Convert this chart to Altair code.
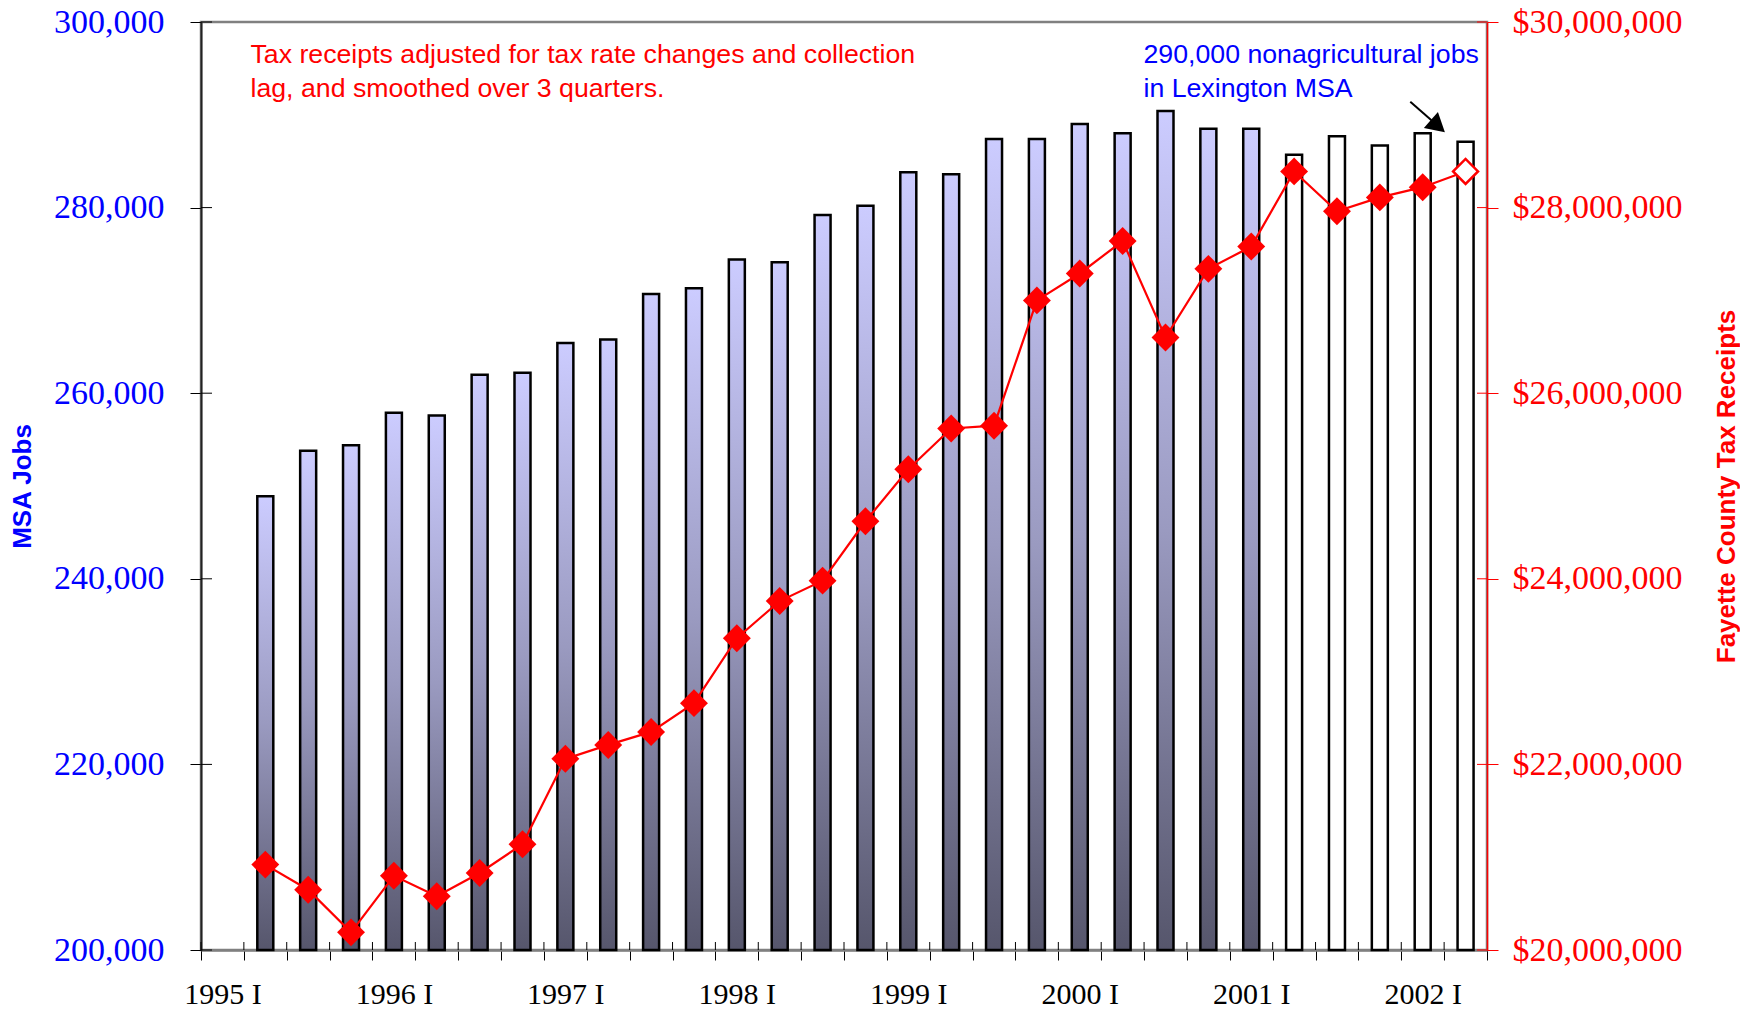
import altair as alt
import pandas as pd

# ---------------- data ----------------
quarters = [
    "1995 I", "1995 II", "1995 III", "1995 IV",
    "1996 I", "1996 II", "1996 III", "1996 IV",
    "1997 I", "1997 II", "1997 III", "1997 IV",
    "1998 I", "1998 II", "1998 III", "1998 IV",
    "1999 I", "1999 II", "1999 III", "1999 IV",
    "2000 I", "2000 II", "2000 III", "2000 IV",
    "2001 I", "2001 II", "2001 III", "2001 IV",
    "2002 I", "2002 II",
]
bar_quarters = quarters[1:]

jobs = [
    248900, 253800, 254400, 257900, 257600, 262000, 262200, 265400,
    265800, 270700, 271300, 274400, 274100, 279200, 280200, 283800,
    283600, 287400, 287400, 289000, 288000, 290400, 288500, 288500,
    285700, 287700, 286700, 288000, 287100,
]
tax = [
    20920000, 20650000, 20190000, 20800000, 20580000, 20830000, 21140000, 22060000,
    22210000, 22350000, 22660000, 23360000, 23760000, 23980000, 24620000, 25180000,
    25620000, 25650000, 27000000, 27290000, 27640000, 26600000, 27340000, 27580000,
    28390000, 27960000, 28110000, 28220000, 28390000,
]
n_actual_jobs = 24          # shaded bars; the rest are outlined
n_actual_tax = 28           # filled diamonds; the last one is hollow

left_ticks = [200000, 220000, 240000, 260000, 280000, 300000]
right_ticks = [20000000, 22000000, 24000000, 26000000, 28000000, 30000000]

note_tax = ["Tax receipts adjusted for tax rate changes and collection",
            "lag, and smoothed over 3 quarters."]
note_jobs = ["290,000 nonagricultural jobs", "in Lexington MSA"]

# ---------------- frames ----------------
W, H = 1286, 928
df = pd.DataFrame({"q": bar_quarters, "jobs": jobs, "tax": tax,
                   "i": list(range(len(jobs)))})
df["base"] = 200000
df_q = pd.DataFrame({"q": quarters})
df_lt = pd.DataFrame({"v": left_ticks})
df_rt = pd.DataFrame({"v": right_ticks})

SERIF = "Liberation Serif"
SANS = "Liberation Sans"
BLUE = "#0000FF"
RED = "#FF0000"

x_scale = alt.Scale(domain=quarters, paddingInner=0, paddingOuter=0)
x_axis = alt.Axis(
    title=None,
    labelExpr="isString(datum.value) && length(datum.value) == 6 ? datum.value : ''",
    labelOverlap=False, tickBand="extent", tickSize=10, tickColor="black",
    tickWidth=1, domainColor="#808080", domainWidth=2.5, labelFont=SERIF,
    labelFontSize=30, labelColor="black", labelPadding=19, labelAngle=0,
    grid=False,
)


def xenc(**kw):
    return alt.X("q:N", scale=x_scale, axis=x_axis, **kw)


yL_scale = alt.Scale(domain=[200000, 300000], zero=False, nice=False)
yL_axis = alt.Axis(
    values=left_ticks, format=",d", title="MSA Jobs", titleColor=BLUE,
    titleFont=SANS, titleFontSize=26, titleFontWeight="bold", titleAngle=270,
    titleX=-179, titleY=H / 2, titleAlign="center", titleBaseline="middle",
    labelFont=SERIF, labelFontSize=34, labelColor=BLUE, labelPadding=26,
    tickSize=11, tickColor="black", tickWidth=1, domainColor="#222222",
    domainWidth=2, grid=False,
)
yR_scale = alt.Scale(domain=[20000000, 30000000], zero=False, nice=False)
yR_axis = alt.Axis(
    orient="right", values=right_ticks, format="$,.0f",
    title="Fayette County Tax Receipts", titleColor=RED, titleFont=SANS,
    titleFontSize=26, titleFontWeight="bold", titleAngle=270, titleX=239,
    titleY=H / 2, titleAlign="center", titleBaseline="middle",
    labelFont=SERIF, labelFontSize=34, labelColor=RED, labelPadding=14,
    tickSize=11, tickColor=RED, tickWidth=1, domainColor=RED, domainWidth=1.5,
    grid=False,
)

base = alt.Chart(df)

gradient = alt.Gradient(
    gradient="linear",
    stops=[alt.GradientStop(color="#CCCCFF", offset=0),
           alt.GradientStop(color="#9A9AC0", offset=0.5),
           alt.GradientStop(color="#56566C", offset=1)],
    x1=0, x2=0, y1=0, y2=1,
)

bars_actual = base.transform_filter(alt.datum.i < n_actual_jobs).mark_bar(
    fill=gradient, stroke="black", strokeWidth=2.5, size=16
).encode(
    x=xenc(),
    y=alt.Y("jobs:Q", scale=yL_scale, axis=yL_axis),
    y2="base:Q",
)
bars_est = base.transform_filter(alt.datum.i >= n_actual_jobs).mark_bar(
    fill="white", stroke="black", strokeWidth=2.5, size=16
).encode(
    x=xenc(),
    y=alt.Y("jobs:Q", scale=yL_scale, axis=yL_axis),
    y2="base:Q",
)
left_inner = alt.Chart(df_lt).mark_rule(color="black", strokeWidth=1).encode(
    y=alt.Y("v:Q", scale=yL_scale, axis=yL_axis),
    x=alt.value(0), x2=alt.value(11),
)
x_inner = alt.Chart(df_q).mark_rule(color="black", strokeWidth=1).encode(
    x=xenc(bandPosition=0),
    y=alt.value(H - 8), y2=alt.value(H),
)

notes = []
for k, line in enumerate(note_tax):
    notes.append(alt.Chart(pd.DataFrame({"t": [line]})).mark_text(
        font=SANS, fontSize=26.7, color=RED, align="left", baseline="alphabetic"
    ).encode(text="t:N", x=alt.value(49.5), y=alt.value(41 + 34 * k)))
for k, line in enumerate(note_jobs):
    notes.append(alt.Chart(pd.DataFrame({"t": [line]})).mark_text(
        font=SANS, fontSize=26.7, color=BLUE, align="left", baseline="alphabetic"
    ).encode(text="t:N", x=alt.value(942.5), y=alt.value(41 + 34 * k)))

arrow_df = pd.DataFrame({"a": [0]})
arrow_shaft = alt.Chart(arrow_df).mark_rule(color="black", strokeWidth=2).encode(
    x=alt.value(1209.3), y=alt.value(79.7), x2=alt.value(1237), y2=alt.value(104)
)
arrow_head = alt.Chart(arrow_df).mark_point(
    shape="triangle-up", filled=True, color="black", size=460, angle=131, opacity=1
).encode(x=alt.value(1236.9), y=alt.value(104.1))

left_layer = alt.layer(bars_actual, bars_est, left_inner, x_inner,
                       *notes, arrow_shaft, arrow_head)

line = base.mark_line(color=RED, strokeWidth=2.2).encode(
    x=xenc(), y=alt.Y("tax:Q", scale=yR_scale, axis=yR_axis)
)
pts = base.transform_filter(alt.datum.i < n_actual_tax).mark_point(
    shape="diamond", filled=True, color=RED, size=780, opacity=1
).encode(x=xenc(), y=alt.Y("tax:Q", scale=yR_scale, axis=yR_axis))
pts_est = base.transform_filter(alt.datum.i >= n_actual_tax).mark_point(
    shape="diamond", filled=True, fill="white", stroke=RED, strokeWidth=2.5,
    size=620, opacity=1
).encode(x=xenc(), y=alt.Y("tax:Q", scale=yR_scale, axis=yR_axis))
right_inner = alt.Chart(df_rt).mark_rule(color=RED, strokeWidth=1).encode(
    y=alt.Y("v:Q", scale=yR_scale, axis=yR_axis),
    x=alt.value(W - 10), x2=alt.value(W),
)

right_layer = alt.layer(right_inner, line, pts, pts_est)

chart = alt.layer(left_layer, right_layer).resolve_scale(
    y="independent"
).properties(
    width=W, height=H,
    autosize=alt.AutoSizeParams(type="none"),
    padding={"left": 193, "top": 14, "right": 253, "bottom": 62},
    background="white",
).configure_view(stroke="#808080", strokeWidth=2.5)

chart.save("out.html", embed_options={"renderer": "svg", "actions": False})
